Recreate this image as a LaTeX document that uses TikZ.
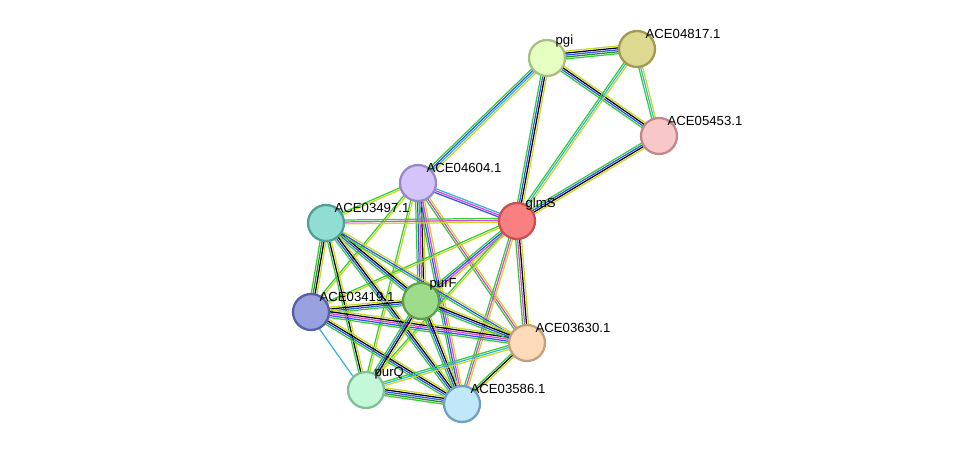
\documentclass[tikz,border=0pt]{standalone}
\usepackage{fontspec}
\setmainfont{Liberation Sans}
\usetikzlibrary{calc,backgrounds}
\definecolor{eGreen}{HTML}{33CC33}
\definecolor{eDark}{HTML}{228B22}
\definecolor{eLime}{HTML}{C8D820}
\definecolor{eBlue}{HTML}{3050FF}
\definecolor{eCyan}{HTML}{30B8D8}
\definecolor{eMag}{HTML}{E040E0}
\tikzset{
  prot/.style={circle, minimum size=0.72cm, line width=1.3pt, inner sep=0pt},
  lbl/.style={font=\fontsize{7.5}{9}\selectfont, anchor=south west, inner sep=0pt, xshift=-3pt, yshift=-2pt},
  lnk/.style={line width=0.7pt}
}
% parallel coloured links between two proteins
\newcommand\plink[3]{%
  \edef\lnklist{#3}%
  \foreach \c [count=\i] in \lnklist {
    \pgfmathsetmacro\off{(\i-1)*1.1-1.6}
    \draw[lnk, \c] ($(#1)!\off pt!90:(#2)$) -- ($(#2)!\off pt!-90:(#1)$);
  }}
\begin{document}
\begin{tikzpicture}[x=0.02cm, y=-0.02cm]
        \useasboundingbox (0,0) rectangle (975,450);
        % proteins
        \node[prot, fill={rgb,255:red,229;green,255;blue,192}, draw={rgb,255:red,165;green,192;blue,128}, label={[lbl]45:pgi}] (pgi) at (547,58) {};
        \node[prot, fill={rgb,255:red,221;green,217;blue,144}, draw={rgb,255:red,160;green,154;blue,80}, label={[lbl]45:ACE04817.1}] (e4817) at (637,49) {};
        \node[prot, fill={rgb,255:red,248;green,200;blue,200}, draw={rgb,255:red,192;green,136;blue,136}, label={[lbl]45:ACE05453.1}] (e5453) at (659,136) {};
        \node[prot, fill={rgb,255:red,212;green,196;blue,250}, draw={rgb,255:red,154;green,136;blue,200}, label={[lbl]45:ACE04604.1}] (e4604) at (418,183) {};
        \node[prot, fill={rgb,255:red,248;green,128;blue,128}, draw={rgb,255:red,200;green,80;blue,80}, label={[lbl]45:glmS}] (glmS) at (517,221) {};
        \node[prot, fill={rgb,255:red,144;green,221;blue,212}, draw={rgb,255:red,80;green,160;blue,152}, label={[lbl]45:ACE03497.1}] (e3497) at (326,223) {};
        \node[prot, fill={rgb,255:red,152;green,160;blue,224}, draw={rgb,255:red,85;green,96;blue,168}, label={[lbl]45:ACE03419.1}] (e3419) at (311,312) {};
        \node[prot, fill={rgb,255:red,157;green,220;blue,138}, draw={rgb,255:red,96;green,160;blue,80}, label={[lbl]45:purF}] (purF) at (421,301) {};
        \node[prot, fill={rgb,255:red,253;green,218;blue,184}, draw={rgb,255:red,192;green,160;blue,128}, label={[lbl]45:ACE03630.1}] (e3630) at (527,343) {};
        \node[prot, fill={rgb,255:red,196;green,248;blue,216}, draw={rgb,255:red,128;green,192;blue,152}, label={[lbl]45:purQ}] (purQ) at (366,390) {};
        \node[prot, fill={rgb,255:red,192;green,232;blue,250}, draw={rgb,255:red,112;green,160;blue,192}, label={[lbl]45:ACE03586.1}] (e3586) at (462,404) {};

        % links
        \begin{scope}[on background layer]
        \plink{pgi}{e4817}{eGreen,eDark,eBlue,black,eLime}
        \plink{pgi}{e5453}{eGreen,eBlue,black,eLime}
        \plink{e4817}{e5453}{eGreen,eCyan,eLime}
        \plink{e4817}{glmS}{eGreen,eCyan,eLime}
        \plink{pgi}{glmS}{eGreen,eBlue,black,eLime}
        \plink{pgi}{e4604}{eGreen,eBlue,eCyan,eLime}
        \plink{e5453}{glmS}{eGreen,eBlue,black,eLime}
        \plink{e4604}{glmS}{eBlue,eMag,eCyan}
        \plink{e3419}{purQ}{eCyan}
        \foreach \a/\b/\cl in {
            e4604/e3497/{eGreen,eLime}, e4604/e3419/{eGreen,eLime}, e4604/purF/{eGreen,eBlue,eMag,black,eLime},
            e4604/e3630/{eGreen,eMag,eLime}, e4604/purQ/{eGreen,eLime}, e4604/e3586/{eGreen,eBlue,eMag,eLime},
            glmS/e3497/{eGreen,eMag,eLime}, glmS/e3419/{eGreen,eLime}, glmS/purF/{eGreen,eBlue,eMag,eLime},
            glmS/e3630/{eGreen,eMag,black,eLime}, glmS/purQ/{eGreen,eLime}, glmS/e3586/{eGreen,eMag,eLime},
            e3497/e3419/{eGreen,eDark,black,eLime}, e3497/purF/{eGreen,eBlue,black,eLime}, e3497/e3630/{eGreen,eBlue,eLime},
            e3497/purQ/{eGreen,black,eLime}, e3497/e3586/{eGreen,eBlue,black,eLime},
            e3419/purF/{eGreen,eBlue,black,eLime}, e3419/e3630/{eGreen,eBlue,eMag,black,eLime}, e3419/e3586/{eGreen,eBlue,black,eLime},
            purF/e3630/{eGreen,eBlue,black,eLime}, purF/purQ/{eGreen,eBlue,black,eLime}, purF/e3586/{eGreen,eBlue,black,eLime},
            e3630/purQ/{eGreen,eCyan,eLime}, e3630/e3586/{eGreen,black,eLime}, purQ/e3586/{eGreen,eDark,eBlue,black,eLime}}
          {\plink{\a}{\b}{\cl}}
        \end{scope}
\end{tikzpicture}
\end{document}
